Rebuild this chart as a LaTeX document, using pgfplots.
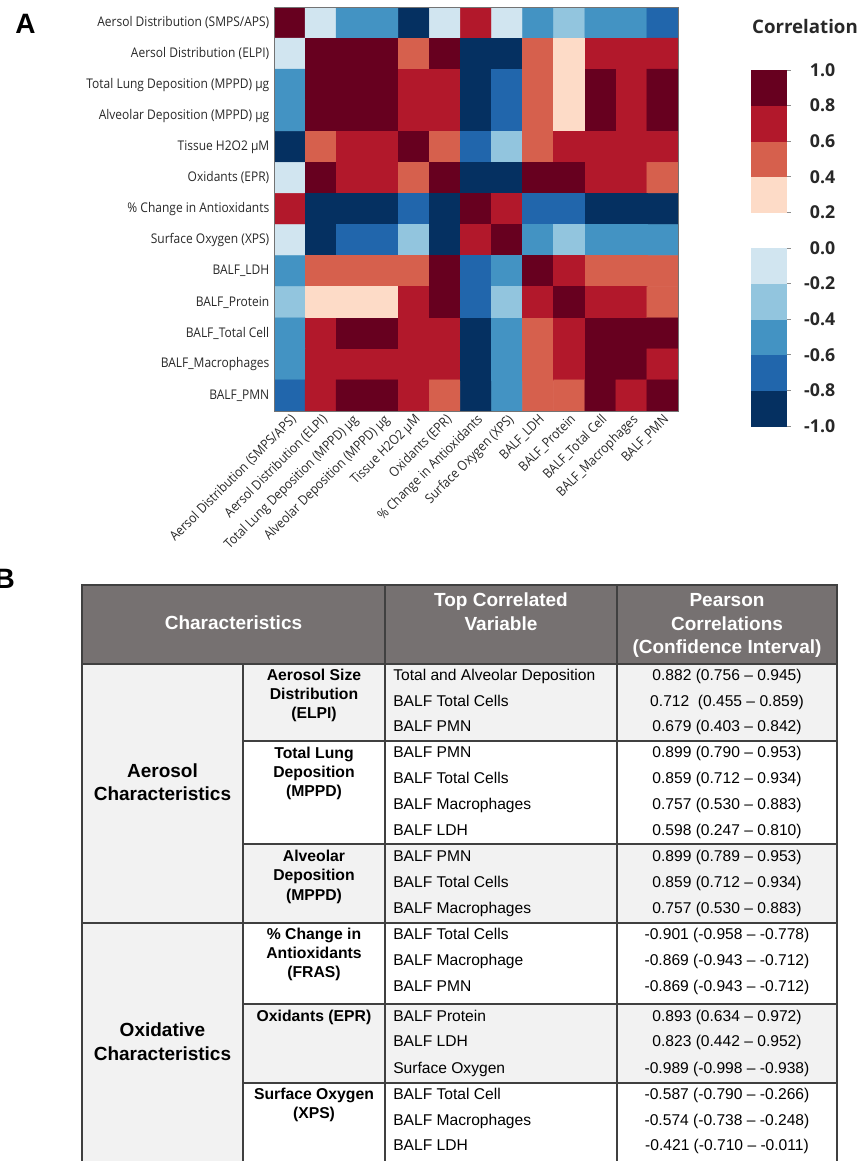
\documentclass[border=0pt]{standalone}
\usepackage{pgfplots}
\pgfplotsset{compat=1.18}
\usepackage{fontspec}
\setmainfont{Liberation Sans}
\newfontfamily\hmfont[FakeStretch=0.9]{Open Sans}
\newfontfamily\cbfont{Open Sans}
\definecolor{hdr}{RGB}{118,113,113}
\definecolor{cellgray}{RGB}{242,242,242}
\definecolor{rulec}{RGB}{64,64,64}
\definecolor{lbl}{RGB}{40,40,40}
\begin{document}
\begin{tikzpicture}
\path[use as bounding box] (0,0) rectangle (648pt,-870.75pt);
\clip (0,0) rectangle (648pt,-870.75pt);
\begin{axis}[
  at={(205.5pt,-308.25pt)}, anchor=south west,
  width=303pt, height=303pt, scale only axis,
  xmin=-0.5, xmax=12.5, ymin=-0.5, ymax=12.5, y dir=reverse,
  xtick={0,...,12}, ytick={0,...,12},
  xticklabels={Aersol Distribution (SMPS/APS),Aersol Distribution (ELPI),Total Lung Deposition (MPPD) µg,Alveolar Deposition (MPPD) µg,Tissue H2O2 µM,Oxidants (EPR),\% Change in Antioxidants,Surface Oxygen (XPS),BALF\_LDH,BALF\_Protein,BALF\_Total Cell,BALF\_Macrophages,BALF\_PMN},
  yticklabels={Aersol Distribution (SMPS/APS),Aersol Distribution (ELPI),Total Lung Deposition (MPPD) µg,Alveolar Deposition (MPPD) µg,Tissue H2O2 µM,Oxidants (EPR),\% Change in Antioxidants,Surface Oxygen (XPS),BALF\_LDH,BALF\_Protein,BALF\_Total Cell,BALF\_Macrophages,BALF\_PMN},
  xticklabel style={rotate=45, anchor=north east, inner sep=1pt, font=\hmfont\fontsize{10}{12}\selectfont, text=lbl},
  yticklabel style={font=\hmfont\fontsize{10}{12}\selectfont, text=lbl},
  major tick length=0pt,
  axis line style={black!55, line width=0.6pt},
  axis on top,
  colormap={rdbu}{rgb255=(5,48,97) rgb255=(33,102,172) rgb255=(67,147,195) rgb255=(146,197,222) rgb255=(209,229,240) rgb255=(255,255,255) rgb255=(253,219,199) rgb255=(214,96,77) rgb255=(178,24,43) rgb255=(103,0,31)},
  colormap access=piecewise constant,
  point meta min=-1, point meta max=1,
  colorbar,
  colorbar style={
    at={(parent axis.north east)}, anchor=north west,
    xshift=46.2pt, yshift=-47.25pt,
    width=27pt, height=267pt,
    ytick={-1,-0.8,-0.6,-0.4,-0.2,0,0.2,0.4,0.6,0.8,1},
    yticklabels={-1.0,-0.8,-0.6,-0.4,-0.2,0.0,0.2,0.4,0.6,0.8,1.0},
    yticklabel style={font=\cbfont\bfseries\fontsize{13.3}{15}\selectfont, text=lbl, text width=33pt, align=right, anchor=west, inner sep=0pt},
    ytick pos=right, tick align=outside, major tick length=3pt,
    ytick style={black!45, line width=0.7pt},
    axis line style={draw=none},
    title={Correlation},
    title style={font=\cbfont\bfseries\fontsize{14}{16}\selectfont, text=lbl, at={(0.5,1)}, anchor=base, xshift=27pt, yshift=21.75pt, inner sep=0pt},
  },
]
\addplot[matrix plot*, mesh/cols=13, point meta=explicit] coordinates {
(0,0)[1.0] (1,0)[-0.1] (2,0)[-0.5] (3,0)[-0.5] (4,0)[-0.9] (5,0)[-0.1] (6,0)[0.7] (7,0)[-0.1] (8,0)[-0.5] (9,0)[-0.3] (10,0)[-0.5] (11,0)[-0.5] (12,0)[-0.7]
(0,1)[-0.1] (1,1)[1.0] (2,1)[0.882] (3,1)[0.882] (4,1)[0.5] (5,1)[0.9] (6,1)[-0.9] (7,1)[-0.9] (8,1)[0.5] (9,1)[0.3] (10,1)[0.712] (11,1)[0.7] (12,1)[0.679]
(0,2)[-0.5] (1,2)[0.882] (2,2)[1.0] (3,2)[0.95] (4,2)[0.7] (5,2)[0.7] (6,2)[-0.9] (7,2)[-0.7] (8,2)[0.598] (9,2)[0.3] (10,2)[0.859] (11,2)[0.757] (12,2)[0.899]
(0,3)[-0.5] (1,3)[0.882] (2,3)[0.95] (3,3)[1.0] (4,3)[0.7] (5,3)[0.7] (6,3)[-0.9] (7,3)[-0.7] (8,3)[0.55] (9,3)[0.3] (10,3)[0.859] (11,3)[0.757] (12,3)[0.899]
(0,4)[-0.9] (1,4)[0.5] (2,4)[0.7] (3,4)[0.7] (4,4)[1.0] (5,4)[0.5] (6,4)[-0.7] (7,4)[-0.3] (8,4)[0.5] (9,4)[0.7] (10,4)[0.7] (11,4)[0.7] (12,4)[0.7]
(0,5)[-0.1] (1,5)[0.9] (2,5)[0.7] (3,5)[0.7] (4,5)[0.5] (5,5)[1.0] (6,5)[-0.9] (7,5)[-0.989] (8,5)[0.823] (9,5)[0.893] (10,5)[0.7] (11,5)[0.7] (12,5)[0.5]
(0,6)[0.7] (1,6)[-0.9] (2,6)[-0.9] (3,6)[-0.9] (4,6)[-0.7] (5,6)[-0.9] (6,6)[1.0] (7,6)[0.7] (8,6)[-0.7] (9,6)[-0.7] (10,6)[-0.901] (11,6)[-0.869] (12,6)[-0.869]
(0,7)[-0.1] (1,7)[-0.9] (2,7)[-0.7] (3,7)[-0.7] (4,7)[-0.3] (5,7)[-0.989] (6,7)[0.7] (7,7)[1.0] (8,7)[-0.421] (9,7)[-0.3] (10,7)[-0.587] (11,7)[-0.574] (12,7)[-0.5]
(0,8)[-0.5] (1,8)[0.5] (2,8)[0.598] (3,8)[0.55] (4,8)[0.5] (5,8)[0.823] (6,8)[-0.7] (7,8)[-0.421] (8,8)[1.0] (9,8)[0.7] (10,8)[0.5] (11,8)[0.5] (12,8)[0.5]
(0,9)[-0.3] (1,9)[0.3] (2,9)[0.3] (3,9)[0.3] (4,9)[0.7] (5,9)[0.893] (6,9)[-0.7] (7,9)[-0.3] (8,9)[0.7] (9,9)[1.0] (10,9)[0.7] (11,9)[0.7] (12,9)[0.5]
(0,10)[-0.5] (1,10)[0.712] (2,10)[0.859] (3,10)[0.859] (4,10)[0.7] (5,10)[0.7] (6,10)[-0.901] (7,10)[-0.587] (8,10)[0.5] (9,10)[0.7] (10,10)[1.0] (11,10)[0.9] (12,10)[0.9]
(0,11)[-0.5] (1,11)[0.7] (2,11)[0.757] (3,11)[0.757] (4,11)[0.7] (5,11)[0.7] (6,11)[-0.869] (7,11)[-0.574] (8,11)[0.5] (9,11)[0.7] (10,11)[0.9] (11,11)[1.0] (12,11)[0.7]
(0,12)[-0.7] (1,12)[0.679] (2,12)[0.899] (3,12)[0.899] (4,12)[0.7] (5,12)[0.5] (6,12)[-0.869] (7,12)[-0.5] (8,12)[0.5] (9,12)[0.5] (10,12)[0.9] (11,12)[0.7] (12,12)[1.0]
};
\end{axis}
\begin{scope}[x=0.75pt,y=-0.75pt]
\tikzset{
  hd/.style={text=white, font=\bfseries\fontsize{14.25}{17}\selectfont, inner sep=0pt, anchor=mid},
  cg/.style={font=\bfseries\fontsize{14.25}{17}\selectfont, inner sep=0pt, anchor=mid},
  sc/.style={font=\bfseries\fontsize{11.8}{14}\selectfont, inner sep=0pt, anchor=mid},
  bv/.style={font=\fontsize{11.7}{14}\selectfont, inner sep=0pt, anchor=mid west},
  bp/.style={font=\fontsize{11.7}{14}\selectfont, inner sep=0pt, anchor=mid},
}
\node[font=\bfseries\fontsize{21}{24}\selectfont, anchor=base west, inner sep=0pt] at (15,33) {A};
\node[font=\bfseries\fontsize{21}{24}\selectfont, anchor=base east, inner sep=0pt] at (15,588) {B};
% table background
\fill[hdr] (82,585) rectangle (837,664);
\fill[cellgray] (82,664) rectangle (243,1170);
\fill[cellgray] (243,664) rectangle (837,741);
\fill[cellgray] (243,844) rectangle (837,923);
\fill[cellgray] (243,1004) rectangle (837,1083);
% rules
\draw[rulec, line width=0.9pt] (82,1170) -- (82,585) -- (837,585) -- (837,1170);
\draw[rulec, line width=0.9pt] (82,664) -- (837,664);
\draw[rulec, line width=0.9pt] (82,923) -- (837,923);
\foreach \yy in {741,844,1004,1083} \draw[rulec, line width=0.9pt] (243,\yy) -- (837,\yy);
\draw[rulec, line width=0.9pt] (243,664) -- (243,1170);
\draw[rulec, line width=0.9pt] (385,585) -- (385,1170);
\draw[rulec, line width=0.9pt] (617,585) -- (617,1170);
% header
\node[hd] at (233.5,626) {Characteristics};
\node[hd] at (501,603) {Top Correlated};
\node[hd] at (501,627) {Variable};
\node[hd] at (727,603) {Pearson};
\node[hd] at (727,627) {Correlations};
\node[hd] at (727,650) {(Confidence Interval)};
% group column
\node[cg] at (162.5,774) {Aerosol};
\node[cg] at (162.5,797) {Characteristics};
\node[cg] at (162.5,1033) {Oxidative};
\node[cg] at (162.5,1057) {Characteristics};
% sub characteristics
\node[sc] at (314,677) {Aerosol Size};
\node[sc] at (314,696) {Distribution};
\node[sc] at (314,715) {(ELPI)};
\node[sc] at (314,755) {Total Lung};
\node[sc] at (314,774) {Deposition};
\node[sc] at (314,793) {(MPPD)};
\node[sc] at (314,858) {Alveolar};
\node[sc] at (314,877) {Deposition};
\node[sc] at (314,897) {(MPPD)};
\node[sc] at (314,936) {\% Change in};
\node[sc] at (314,955) {Antioxidants};
\node[sc] at (314,974) {(FRAS)};
\node[sc] at (314,1018) {Oxidants (EPR)};
\node[sc] at (314,1096) {Surface Oxygen};
\node[sc] at (314,1115) {(XPS)};
% body rows
\node[bv] at (393,677) {Total and Alveolar Deposition};
\node[bp] at (727,677) {0.882 (0.756 – 0.945)};
\node[bv] at (393,703) {BALF Total Cells};
\node[bp] at (727,703) {0.712\ \ (0.455 – 0.859)};
\node[bv] at (393,728) {BALF PMN};
\node[bp] at (727,728) {0.679 (0.403 – 0.842)};
\node[bv] at (393,754) {BALF PMN};
\node[bp] at (727,754) {0.899 (0.790 – 0.953)};
\node[bv] at (393,780) {BALF Total Cells};
\node[bp] at (727,780) {0.859 (0.712 – 0.934)};
\node[bv] at (393,806) {BALF Macrophages};
\node[bp] at (727,806) {0.757 (0.530 – 0.883)};
\node[bv] at (393,832) {BALF LDH};
\node[bp] at (727,832) {0.598 (0.247 – 0.810)};
\node[bv] at (393,858) {BALF PMN};
\node[bp] at (727,858) {0.899 (0.789 – 0.953)};
\node[bv] at (393,884) {BALF Total Cells};
\node[bp] at (727,884) {0.859 (0.712 – 0.934)};
\node[bv] at (393,910) {BALF Macrophages};
\node[bp] at (727,910) {0.757 (0.530 – 0.883)};
\node[bv] at (393,936) {BALF Total Cells};
\node[bp] at (727,936) {-0.901 (-0.958 – -0.778)};
\node[bv] at (393,962) {BALF Macrophage};
\node[bp] at (727,962) {-0.869 (-0.943 – -0.712)};
\node[bv] at (393,988) {BALF PMN};
\node[bp] at (727,988) {-0.869 (-0.943 – -0.712)};
\node[bv] at (393,1018) {BALF Protein};
\node[bp] at (727,1018) {0.893 (0.634 – 0.972)};
\node[bv] at (393,1043) {BALF LDH};
\node[bp] at (727,1043) {0.823 (0.442 – 0.952)};
\node[bv] at (393,1070) {Surface Oxygen};
\node[bp] at (727,1070) {-0.989 (-0.998 – -0.938)};
\node[bv] at (393,1096) {BALF Total Cell};
\node[bp] at (727,1096) {-0.587 (-0.790 – -0.266)};
\node[bv] at (393,1122) {BALF Macrophages};
\node[bp] at (727,1122) {-0.574 (-0.738 – -0.248)};
\node[bv] at (393,1147) {BALF LDH};
\node[bp] at (727,1147) {-0.421 (-0.710 – -0.011)};
\end{scope}
\end{tikzpicture}
\end{document}
